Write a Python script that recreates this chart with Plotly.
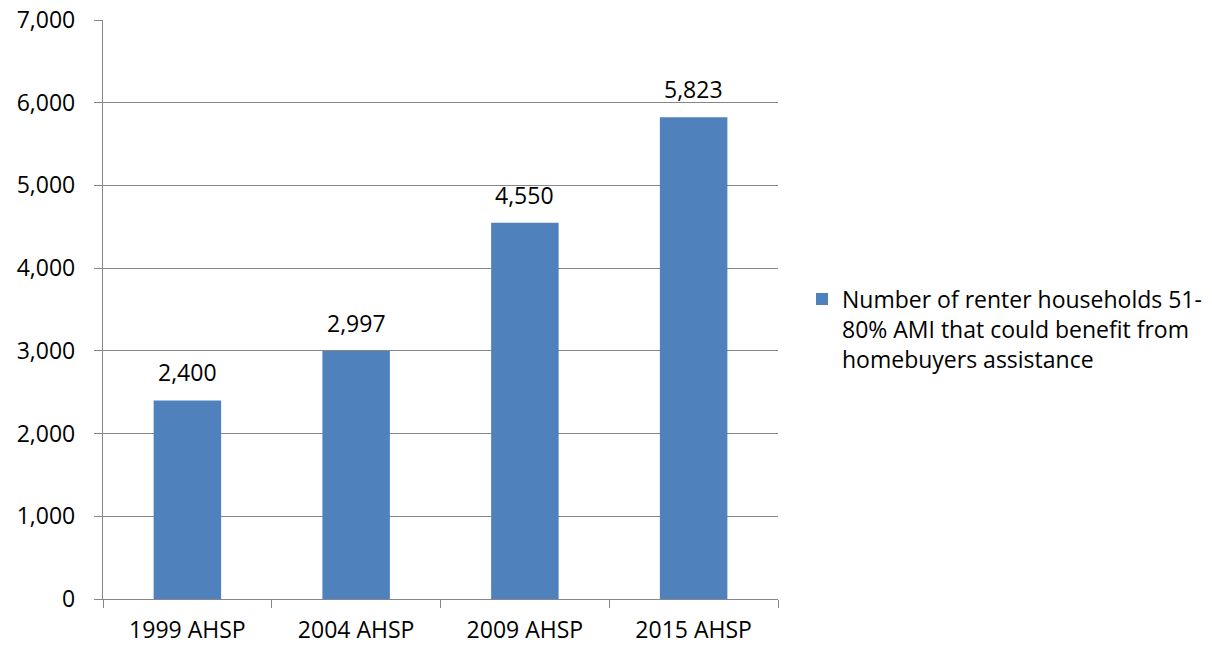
import plotly.graph_objects as go

categories = ["1999 AHSP", "2004 AHSP", "2009 AHSP", "2015 AHSP"]
renter_households = [2400, 2997, 4550, 5823]
series_name = "Number of renter households 51-<br>80% AMI that could benefit from<br>homebuyers assistance"

FONT = "Open Sans"
SIZE = 23
GRID = "#868686"

fig = go.Figure(
    go.Bar(
        x=categories,
        y=renter_households,
        name=series_name,
        marker=dict(color="#4F81BD", line=dict(width=0)),
        showlegend=True,
    )
)

# value labels sitting above each bar
for cat, val in zip(categories, renter_households):
    fig.add_annotation(
        x=cat,
        y=val,
        text=f"{val:,}",
        showarrow=False,
        yanchor="middle",
        yshift=28,
        font=dict(family=FONT, size=SIZE, color="#000000"),
    )

fig.update_layout(
    width=1212,
    height=645,
    margin=dict(l=103, r=434, t=20, b=46, autoexpand=False),
    paper_bgcolor="white",
    plot_bgcolor="white",
    font=dict(family=FONT, size=SIZE, color="#000000"),
    bargap=0.6,
    showlegend=True,
    legend=dict(
        xref="container",
        yref="container",
        x=802 / 1212,
        y=1 - 329 / 645,
        xanchor="left",
        yanchor="middle",
        valign="top",
        font=dict(family=FONT, size=SIZE, color="#000000"),
        itemwidth=30,
        tracegroupgap=0,
    ),
)

fig.update_yaxes(
    range=[0, 7000],
    dtick=1000,
    tickformat=",",
    automargin=False,
    showgrid=True,
    gridcolor=GRID,
    gridwidth=1.3,
    zeroline=False,
    showline=True,
    linecolor=GRID,
    linewidth=1.3,
    ticks="outside",
    ticklen=8,
    tickcolor=GRID,
    tickwidth=1.3,
    ticklabelstandoff=14,
)

fig.update_xaxes(
    automargin=False,
    showline=True,
    linecolor=GRID,
    linewidth=1.3,
    ticks="outside",
    tickson="boundaries",
    ticklen=8,
    tickcolor=GRID,
    tickwidth=1.3,
    showgrid=False,
    ticklabelstandoff=10,
)

fig.write_html("out.html")
